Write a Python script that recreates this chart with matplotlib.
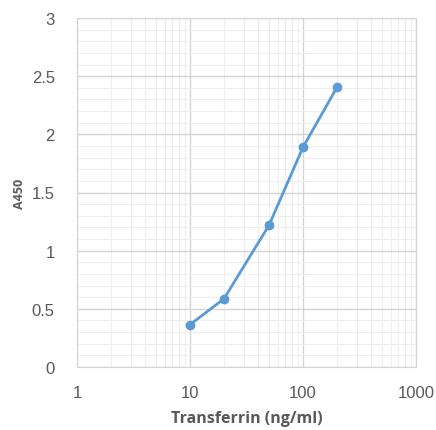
import matplotlib
matplotlib.use("Agg")
import matplotlib.pyplot as plt
from matplotlib.ticker import LogLocator, MultipleLocator, FixedLocator, FixedFormatter

conc = [10, 20, 50, 100, 200]
a450 = [0.364, 0.587, 1.218, 1.889, 2.405]
xticks = [1, 10, 100, 1000]
xticklabels = ["1", "10", "100", "1000"]
yticks = [0, 0.5, 1, 1.5, 2, 2.5, 3]
yticklabels = ["0", "0.5", "1", "1.5", "2", "2.5", "3"]

fig = plt.figure(figsize=(4.36, 4.31), dpi=100)
ax = fig.add_axes([77/436, 1-368/431, (416-77)/436, (368-19)/431])

ax.set_xscale("log")
ax.set_xlim(1, 1000)
ax.set_ylim(0, 3)
ax.xaxis.set_major_locator(FixedLocator(xticks))
ax.xaxis.set_major_formatter(FixedFormatter(xticklabels))
ax.xaxis.set_minor_locator(LogLocator(base=10, subs=range(2, 10)))
ax.yaxis.set_major_locator(FixedLocator(yticks))
ax.yaxis.set_major_formatter(FixedFormatter(yticklabels))
ax.yaxis.set_minor_locator(MultipleLocator(0.1))

ax.grid(which="major", color="#d4d4d4", linewidth=1.0)
ax.grid(which="minor", color="#eeeeee", linewidth=0.8)
ax.set_axisbelow(True)
for s in ax.spines.values():
    s.set_color("#d4d4d4")
ax.tick_params(which="both", length=0, colors="#595959", labelsize=12)
for lab in ax.get_xticklabels() + ax.get_yticklabels():
    lab.set_fontfamily("Liberation Sans")
ax.tick_params(axis="y", pad=16)
ax.tick_params(axis="x", pad=13)

ax.plot(conc, a450, color="#5b9bd5", linewidth=2, marker="o", markersize=6)

ax.set_xlabel("Transferrin (ng/ml)", fontsize=11.5, fontweight="bold", color="#595959",
              fontfamily="Open Sans", labelpad=7)
ax.set_ylabel("A450", fontsize=9, fontweight="bold", color="#595959",
              fontfamily="Open Sans", labelpad=4)

fig.savefig("out.png", dpi=100)
